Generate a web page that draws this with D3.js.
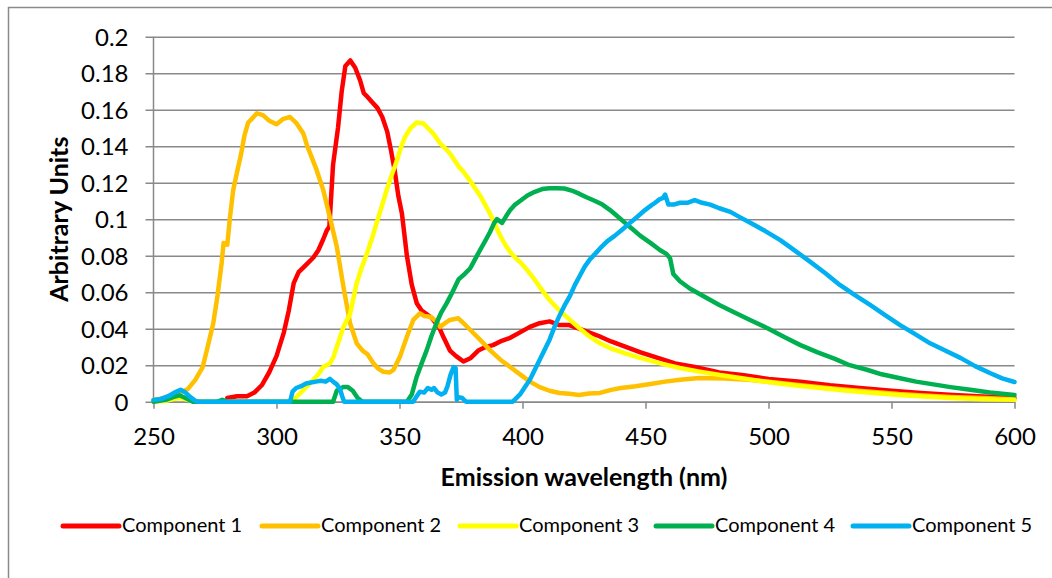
<!DOCTYPE html>
<html>
<head>
<meta charset="utf-8">
<script src="https://cdn.jsdelivr.net/npm/d3@7"></script>
<style>
  body { margin: 0; background: #fff; }
  svg { display: block; }
</style>
</head>
<body>
<div id="chart"></div>
<script>
// datos: [longitud de onda nm, valor]
const component1 = [[280,0.002],[284,0.003],[288,0.003],[291,0.005],[294,0.009],[297,0.016],[300,0.025],[303,0.038],[305,0.05],[307,0.065],[309,0.071],[312,0.075],[315,0.079],[317,0.083],[319,0.089],[320.5,0.094],[321.5,0.096],[323,0.13],[325,0.15],[326.5,0.17],[328,0.184],[330,0.187],[332,0.183],[334,0.176],[335.5,0.169],[337,0.167],[339,0.164],[341,0.161],[343,0.156],[345,0.148],[346.5,0.138],[348,0.127],[349.5,0.113],[351,0.103],[353,0.08],[355,0.064],[357,0.054],[359,0.05],[361,0.048],[363,0.046],[366,0.041],[368,0.035],[370.5,0.028],[373,0.025],[376,0.022],[379,0.024],[382,0.028],[385,0.03],[388,0.031],[391,0.033],[395,0.035],[399,0.038],[403,0.041],[407,0.043],[411,0.044],[415,0.042],[419,0.042],[423,0.04],[427,0.038],[431,0.036],[436,0.033],[442,0.03],[448,0.027],[455,0.024],[462,0.021],[470,0.019],[480,0.016],[490,0.0145],[500,0.0125],[513,0.011],[525,0.009],[537,0.0075],[550,0.006],[562,0.0048],[575,0.0037],[587,0.0028],[600,0.002]];

const component2 = [[250,0.001],[255,0.002],[258,0.003],[261,0.005],[264,0.007],[267,0.012],[270,0.019],[272,0.03],[274.3,0.043],[276,0.058],[277.7,0.076],[278.5,0.087],[280,0.086],[281,0.1],[282.4,0.116],[284,0.126],[285.5,0.135],[287,0.146],[288.5,0.153],[290,0.155],[292,0.158],[294.5,0.157],[297,0.154],[300,0.152],[302.8,0.155],[305.5,0.156],[308.2,0.1525],[310.9,0.147],[312.5,0.14],[314,0.135],[316.3,0.127],[319,0.116],[321.7,0.101],[324.5,0.085],[327.2,0.063],[329.9,0.043],[332.6,0.032],[335,0.028],[337,0.026],[339.4,0.021],[341.5,0.018],[343.4,0.0164],[346,0.016],[347.5,0.0174],[350.2,0.0247],[353,0.0356],[355.6,0.0448],[358.3,0.0484],[360,0.047],[362.4,0.0466],[365,0.044],[366.5,0.041],[368.5,0.043],[370.5,0.0448],[373.9,0.0457],[376,0.043],[379,0.039],[382.7,0.034],[387,0.028],[391,0.023],[395,0.019],[399,0.015],[403,0.011],[407,0.008],[411,0.006],[415,0.0048],[419,0.0043],[423,0.0037],[427,0.0045],[431.5,0.0048],[436,0.0065],[440,0.0075],[446,0.0085],[452,0.0097],[458,0.011],[464,0.012],[472,0.013],[482,0.0127],[492,0.012],[503,0.0105],[513,0.009],[523,0.0077],[533,0.0064],[543,0.0053],[553,0.0042],[563,0.0034],[574,0.0026],[587,0.002],[600,0.0013]];

const component3 = [[250,0],[255,0.0005],[258,0.0015],[261,0.002],[264,0.001],[267,0],[306,0],[309.6,0.0046],[312,0.008],[315,0.012],[317,0.015],[319,0.019],[321.7,0.021],[323,0.024],[324.5,0.03],[326,0.036],[327.2,0.041],[329.9,0.048],[331,0.055],[332.6,0.065],[334.5,0.073],[336.7,0.081],[338.7,0.089],[340.7,0.098],[342.8,0.107],[344.8,0.116],[346.8,0.124],[348.9,0.132],[350.5,0.139],[352.2,0.145],[354.5,0.15],[357,0.153],[359.7,0.1525],[361.5,0.15],[363.7,0.147],[366.5,0.1416],[368.5,0.139],[370.5,0.136],[372.5,0.132],[374,0.129],[376,0.126],[378.7,0.121],[380.7,0.117],[382.7,0.113],[384.8,0.108],[386.8,0.103],[388.9,0.097],[390.9,0.091],[393,0.086],[395,0.082],[397,0.079],[399,0.0765],[402,0.072],[405,0.0667],[408,0.061],[411,0.0557],[415,0.05],[419.3,0.0448],[423.4,0.04],[427.5,0.0355],[431.5,0.032],[435.6,0.0294],[441.7,0.0265],[447.8,0.024],[456,0.021],[464,0.0185],[472,0.0165],[480.3,0.0146],[488.5,0.013],[496.6,0.0113],[505,0.0098],[513,0.0086],[523,0.0072],[533,0.0059],[543,0.0048],[553,0.0037],[563,0.0028],[574,0.002],[587,0.0014],[600,0.001]];

const component4 = [[250,0],[255,0.001],[258,0.0025],[260.5,0.0035],[263,0.002],[266,0],[276,0],[278,0.001],[280,0],[323,0],[324.5,0.006],[327,0.008],[329,0.008],[331,0.006],[333,0.002],[335,0],[353,0],[355,0.004],[357,0.0137],[359,0.021],[361,0.028],[363,0.036],[365,0.043],[367,0.049],[369.2,0.054],[371.5,0.06],[374,0.067],[376.5,0.07],[378.7,0.073],[380.7,0.078],[382.7,0.083],[384.8,0.088],[386.8,0.093],[388.5,0.098],[389.6,0.1],[391.7,0.098],[393.5,0.102],[395,0.105],[397,0.108],[399,0.11],[402,0.113],[405,0.115],[408,0.1165],[411,0.117],[414,0.117],[417,0.1168],[420,0.1157],[423,0.114],[426,0.112],[429.5,0.11],[432.5,0.108],[435.6,0.105],[438.7,0.1015],[441.7,0.098],[444.8,0.0945],[447.8,0.091],[452,0.087],[456,0.083],[458.5,0.081],[460,0.0785],[461.3,0.07],[464,0.066],[468,0.062],[474,0.0575],[480,0.053],[486,0.049],[492.5,0.0448],[500,0.04],[507,0.035],[513,0.031],[520,0.027],[527,0.0235],[533,0.02],[540,0.0175],[546,0.015],[553,0.013],[560,0.011],[567,0.0095],[574,0.008],[582,0.0065],[590,0.005],[600,0.0037]];

const component5 = [[250,0.001],[253,0.0015],[256,0.003],[258.5,0.005],[261,0.0065],[263,0.005],[265,0.0025],[267,0.0005],[268,0],[305.5,0],[306.5,0.0055],[308,0.0075],[310,0.0085],[312,0.01],[314,0.0105],[316,0.011],[318,0.0115],[320,0.011],[321.7,0.0125],[323,0.011],[324.5,0.0095],[325.8,0.007],[326.7,0.003],[327.5,0],[355.5,0],[357,0.003],[358.3,0.0055],[360,0.005],[361.5,0.0075],[363,0.0065],[364,0.0075],[365.5,0.005],[367,0.004],[368.5,0.005],[369.5,0.0085],[370.8,0.015],[372,0.019],[372.8,0.0185],[373.3,0.001],[374,0.0025],[375.5,0.002],[377,0],[396,0],[397.5,0.002],[399,0.004],[401,0.008],[403,0.012],[405,0.0175],[407,0.023],[409,0.0285],[411,0.034],[413,0.041],[415,0.047],[417,0.0525],[419.3,0.058],[421.3,0.064],[423.3,0.069],[425.3,0.074],[427.4,0.078],[429.5,0.081],[431.5,0.084],[434.5,0.088],[437.6,0.091],[440.7,0.0945],[443.7,0.098],[446.8,0.1015],[449.8,0.105],[451.8,0.107],[453.9,0.109],[455.8,0.111],[457,0.1115],[458,0.1135],[459.3,0.108],[461.5,0.108],[464,0.109],[467,0.109],[470,0.1105],[473,0.109],[476.3,0.108],[480,0.106],[484.5,0.104],[488.5,0.101],[492.6,0.098],[498.7,0.0935],[504.8,0.0885],[511,0.0825],[517,0.0766],[523,0.0705],[529,0.064],[535,0.0585],[541.3,0.053],[547.4,0.0475],[553.5,0.042],[559.6,0.037],[565.7,0.032],[571.8,0.028],[578,0.024],[584,0.0195],[590,0.0157],[595,0.0128],[600,0.0108]];

const seriesNames = ["Component 1", "Component 2", "Component 3", "Component 4", "Component 5"];
const seriesColors = ["#FF0000", "#FFC000", "#FFFF00", "#00B050", "#00B0F0"];
const seriesData = [component1, component2, component3, component4, component5];

const xTicks = [250, 300, 350, 400, 450, 500, 550, 600];
const yTicks = [0, 0.02, 0.04, 0.06, 0.08, 0.1, 0.12, 0.14, 0.16, 0.18, 0.2];

const width = 1052, height = 578;
const margin = { top: 36.7, right: 37.5, bottom: 176.3, left: 153.5 };
const fontFamily = "Lato, 'Open Sans', sans-serif";
const gridColor = "#898989";

const svg = d3.select("#chart").append("svg")
  .attr("width", width)
  .attr("height", height);

// borde del area del grafico (solo arriba e izquierda visibles)
svg.append("rect")
  .attr("x", 8.5).attr("y", 7.5)
  .attr("width", 1100).attr("height", 700)
  .attr("fill", "none")
  .attr("stroke", "#8a8a8a")
  .attr("stroke-width", 1.5);

const x = d3.scaleLinear()
  .domain([250, 600])
  .range([margin.left, width - margin.right]);

const y = d3.scaleLinear()
  .domain([0, 0.2])
  .range([height - margin.bottom, margin.top]);

// lineas de cuadricula + eje Y
const yAxis = svg.append("g")
  .attr("transform", `translate(${margin.left},0)`)
  .call(d3.axisLeft(y)
    .tickValues(yTicks)
    .tickSize(-(width - margin.left - margin.right))
    .tickSizeOuter(0)
    .tickPadding(0)
    .tickFormat(d => String(+d.toFixed(2))));

yAxis.select(".domain").remove();
yAxis.selectAll(".tick line")
  .attr("x1", -8)
  .attr("stroke", gridColor)
  .attr("stroke-width", 1.5);
yAxis.selectAll(".tick text")
  .attr("x", -25)
  .attr("dy", "0.35em")
  .style("font-family", fontFamily)
  .style("font-size", "24px")
  .attr("fill", "#000");

// linea vertical del eje Y
svg.append("line")
  .attr("x1", margin.left).attr("x2", margin.left)
  .attr("y1", y(0.2)).attr("y2", y(0))
  .attr("stroke", gridColor)
  .attr("stroke-width", 1.5);

// eje X
const xAxis = svg.append("g")
  .attr("transform", `translate(0,${height - margin.bottom})`)
  .call(d3.axisBottom(x)
    .tickValues(xTicks)
    .tickSize(7)
    .tickSizeOuter(0)
    .tickPadding(0));

xAxis.select(".domain")
  .attr("stroke", gridColor)
  .attr("stroke-width", 1.5);
xAxis.selectAll(".tick line")
  .attr("stroke", gridColor)
  .attr("stroke-width", 1.5);
xAxis.selectAll(".tick text")
  .attr("y", 43)
  .attr("dy", 0)
  .style("font-family", fontFamily)
  .style("font-size", "24px")
  .attr("fill", "#000");

// series
const line = d3.line()
  .x(d => x(d[0]))
  .y(d => y(d[1]));

svg.append("g")
  .selectAll("path")
  .data(seriesData)
  .join("path")
  .attr("d", line)
  .attr("fill", "none")
  .attr("stroke", (d, i) => seriesColors[i])
  .attr("stroke-width", 4.5)
  .attr("stroke-linejoin", "round")
  .attr("stroke-linecap", "round");

// titulos de ejes
svg.append("text")
  .attr("x", (margin.left + width - margin.right) / 2)
  .attr("y", 486)
  .attr("text-anchor", "middle")
  .style("font-family", fontFamily)
  .style("font-weight", "bold")
  .style("font-size", "25px")
  .text("Emission wavelength (nm)");

svg.append("text")
  .attr("transform", `translate(68,${(y(0) + y(0.2)) / 2}) rotate(-90)`)
  .attr("text-anchor", "middle")
  .style("font-family", fontFamily)
  .style("font-weight", "bold")
  .style("font-size", "25px")
  .text("Arbitrary Units");

// leyenda
const legendX = [63, 262, 460, 656, 853];
const legend = svg.append("g");

seriesNames.forEach((name, i) => {
  legend.append("line")
    .attr("x1", legendX[i]).attr("x2", legendX[i] + 56)
    .attr("y1", 526).attr("y2", 526)
    .attr("stroke", seriesColors[i])
    .attr("stroke-width", 5)
    .attr("stroke-linecap", "round");

  legend.append("text")
    .attr("x", legendX[i] + 59)
    .attr("y", 532)
    .style("font-family", fontFamily)
    .style("font-size", "20px")
    .text(name);
});
</script>
</body>
</html>
